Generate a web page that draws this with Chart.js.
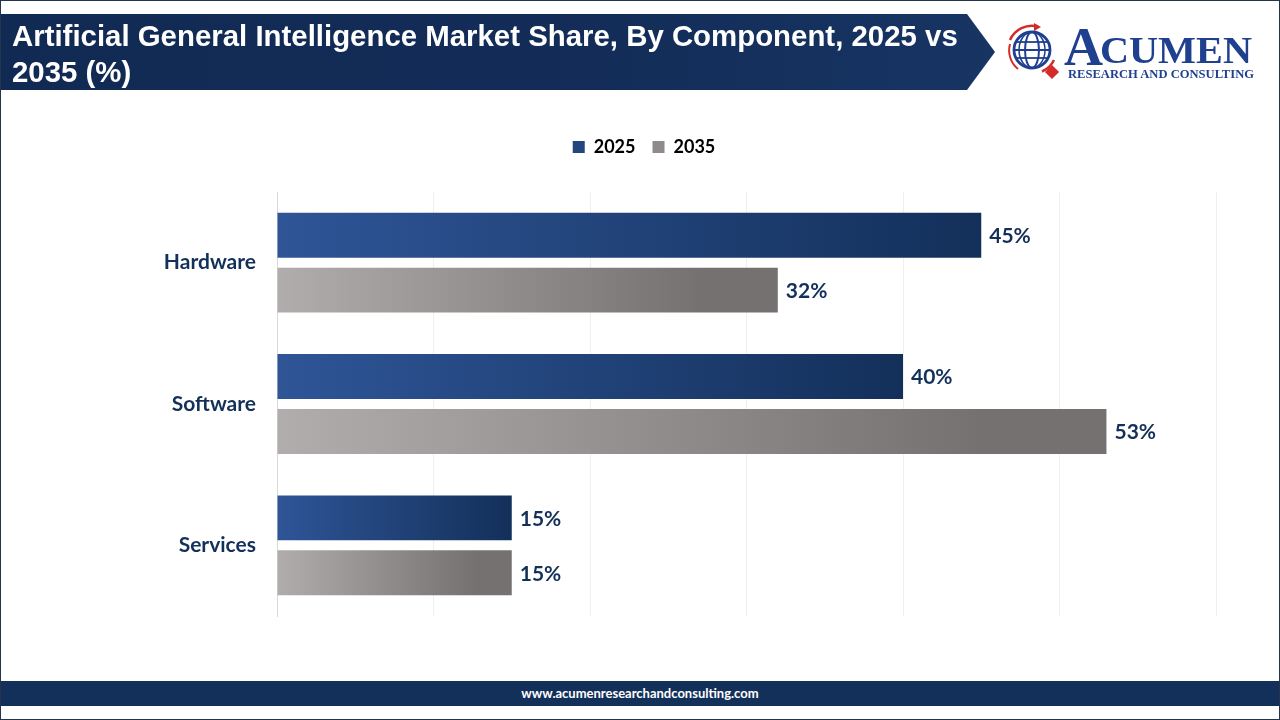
<!DOCTYPE html>
<html>
<head>
<meta charset="utf-8">
<script src="https://cdn.jsdelivr.net/npm/chart.js@4/dist/chart.umd.min.js"></script>
<style>
  html, body { margin:0; padding:0; background:#fff; }
  body { width:1280px; height:720px; position:relative; overflow:hidden; font-family: Lato, "Open Sans", sans-serif; }
  #frame { position:absolute; left:0; top:0; width:1278px; height:718px; border:1px solid #24344a; z-index:5; pointer-events:none; }
  #chart { position:absolute; left:0; top:0; z-index:1; }
  #banner { position:absolute; left:0; top:14px; width:995px; height:76px; z-index:3;
    background: linear-gradient(90deg, #112a54 0%, #132d58 60%, #173463 100%);
    clip-path: polygon(0 0, 967px 0, 995px 50%, 967px 100%, 0 100%); }
  #title { position:absolute; left:12px; top:18px; width:965px; z-index:4; color:#fff;
    font-family:"Liberation Sans", Arial, sans-serif; font-weight:bold; font-size:29.4px; line-height:36px; }
  #footer { position:absolute; left:0; top:681px; width:1280px; height:25px; background:#13305a; z-index:3;
    color:#fff; font-family: Lato, sans-serif; font-weight:bold; font-size:13px; line-height:25px; text-align:center; }
  #logo { position:absolute; left:1000px; top:15px; width:270px; height:70px; z-index:3; }
</style>
</head>
<body>
<canvas id="chart" width="1280" height="720"></canvas>
<div id="banner"></div>
<div id="title">Artificial General Intelligence Market Share, By Component, 2025 vs 2035 (%)</div>
<svg id="logo" width="270" height="70" viewBox="0 0 270 70" xmlns="http://www.w3.org/2000/svg">
  <g transform="translate(32,35)">
    <path d="M -22 -10 A 24 24 0 0 1 6 -23.5" fill="none" stroke="#d42a2a" stroke-width="2.5"/>
    <path d="M 2 -27 L 9 -23 L 2 -19 Z" fill="#d42a2a"/>
    <path d="M 22 10 A 24 24 0 0 1 10 21.5" fill="none" stroke="#d42a2a" stroke-width="2.5"/>
    <path d="M -22 -6 A 24 24 0 0 0 -14 19" fill="none" stroke="#d42a2a" stroke-width="2"/>
    <circle cx="0" cy="0" r="18" fill="#fff" stroke="#1f3f8f" stroke-width="2.8"/>
    <ellipse cx="0" cy="0" rx="7" ry="18" fill="none" stroke="#1f3f8f" stroke-width="2"/>
    <ellipse cx="0" cy="0" rx="13" ry="18" fill="none" stroke="#1f3f8f" stroke-width="1.5"/>
    <line x1="-18" y1="0" x2="18" y2="0" stroke="#1f3f8f" stroke-width="2"/>
    <line x1="-16" y1="-8" x2="16" y2="-8" stroke="#1f3f8f" stroke-width="1.8"/>
    <line x1="-16" y1="8" x2="16" y2="8" stroke="#1f3f8f" stroke-width="1.8"/>
    <rect x="-5" y="-5" width="10" height="10" transform="translate(20,22) rotate(45)" fill="#d42a2a"/>
  </g>
  <text x="64" y="50" font-family="Liberation Serif, serif" font-weight="bold" font-size="54" fill="#1f3f8f">A</text>
  <text x="100" y="48" font-family="Liberation Serif, serif" font-weight="bold" font-size="38" fill="#1f3f8f" textLength="152" lengthAdjust="spacingAndGlyphs">CUMEN</text>
  <text x="68" y="63" font-family="Liberation Serif, serif" font-weight="bold" font-size="12.5" fill="#1f3f8f" textLength="186" lengthAdjust="spacingAndGlyphs">RESEARCH AND CONSULTING</text>
</svg>
<div id="footer">www.acumenresearchandconsulting.com</div>
<div id="frame"></div>
<script>
const categories = ["Hardware", "Software", "Services"];
const seriesLabels = ["2025", "2035"];
const values2025 = [45, 40, 15];
const values2035 = [32, 53, 15];
const xTicks = [0, 10, 20, 30, 40, 50, 60];

const navy = "#13305a";

function barGradient(c0, c1, mid) {
  return (ctx) => {
    const chart = ctx.chart;
    const area = chart.chartArea;
    if (!area) return c1;
    const x0 = area.left;
    let x1 = area.right;
    if (ctx.type === "data" && chart.scales.x) x1 = chart.scales.x.getPixelForValue(ctx.raw);
    if (x1 - x0 < 2) x1 = x0 + 2;
    const g = chart.ctx.createLinearGradient(x0, 0, x1, 0);
    g.addColorStop(0, c0);
    g.addColorStop(mid, c1);
    g.addColorStop(1, c1);
    return g;
  };
}

const valueLabels = {
  id: "valueLabels",
  afterDatasetsDraw(chart) {
    const c = chart.ctx;
    c.save();
    c.font = "bold 21px Lato, sans-serif";
    c.fillStyle = navy;
    c.textAlign = "left";
    c.textBaseline = "middle";
    chart.data.datasets.forEach((ds, di) => {
      const meta = chart.getDatasetMeta(di);
      meta.data.forEach((bar, i) => {
        c.fillText(ds.data[i] + "%", bar.x + 8, bar.y + 1);
      });
    });
    c.restore();
  }
};

new Chart(document.getElementById("chart"), {
  type: "bar",
  data: {
    labels: categories,
    datasets: [
      { label: seriesLabels[0], data: values2025, backgroundColor: barGradient("#2f5597", "#13305a", 1.0),
        legendColor: "#24467f" },
      { label: seriesLabels[1], data: values2035, backgroundColor: barGradient("#b1adac", "#757171", 0.85),
        legendColor: "#8f8b8a" }
    ]
  },
  options: {
    indexAxis: "y",
    responsive: false,
    animation: false,
    maintainAspectRatio: false,
    layout: { padding: { left: 72, right: 64, top: 121, bottom: 104 } },
    datasets: { bar: { categoryPercentage: 0.777, barPercentage: 0.818 } },
    plugins: {
      tooltip: { enabled: false },
      legend: {
        position: "top",
        labels: {
          boxWidth: 12, boxHeight: 12, padding: 17,
          color: "#111",
          font: { family: "Lato, sans-serif", weight: "bold", size: 18 },
          generateLabels(chart) {
            return chart.data.datasets.map((ds, i) => ({
              text: ds.label, fillStyle: ds.legendColor, strokeStyle: ds.legendColor,
              lineWidth: 0, hidden: false, datasetIndex: i
            }));
          }
        }
      }
    },
    scales: {
      x: {
        position: "top",
        min: xTicks[0], max: xTicks[xTicks.length - 1],
        afterBuildTicks(s) { s.ticks = xTicks.map(v => ({ value: v })); },
        ticks: { display: false },
        grid: { color: "#efefef", lineWidth: 1, drawTicks: false },
        border: { display: false },
        afterFit(s) { s.height = 26; }
      },
      y: {
        afterFit(s) { s.width = 205; },
        ticks: { color: navy, padding: 21, font: { family: "Lato, sans-serif", weight: "bold", size: 21 } },
        grid: { display: false, drawTicks: false },
        border: { display: true, color: "#d9d9d9", width: 1 }
      }
    }
  },
  plugins: [valueLabels]
});
</script>
</body>
</html>
